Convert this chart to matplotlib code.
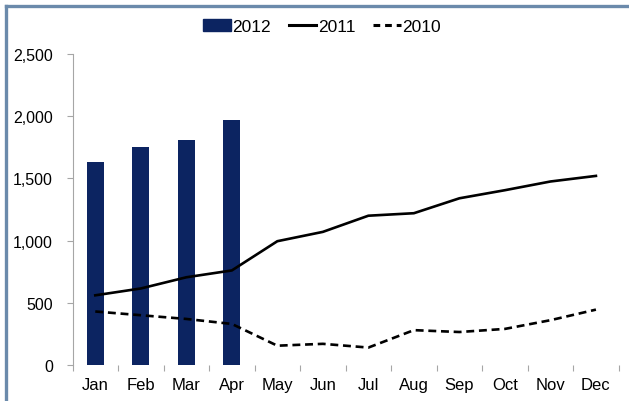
import numpy as np
import matplotlib
matplotlib.use("Agg")
from matplotlib import pyplot as plt
from matplotlib.lines import Line2D
from matplotlib.patches import Patch

plt.rcParams["font.family"] = ["Liberation Sans", "DejaVu Sans"]

months = ["Jan", "Feb", "Mar", "Apr", "May", "Jun",
          "Jul", "Aug", "Sep", "Oct", "Nov", "Dec"]
sales_2012 = [1630, 1750, 1810, 1970]
sales_2011 = [560, 615, 705, 760, 995, 1070, 1200, 1220, 1340, 1405, 1475, 1520]
sales_2010 = [430, 400, 370, 330, 155, 170, 140, 280, 265, 290, 360, 445]

bar_color = "#0c2461"
axis_gray = "#a6a6a6"
frame_blue = "#6b8aab"

fig = plt.figure(figsize=(6.29, 4.02), dpi=100)
ax = fig.add_axes([0.1153, 0.0896, 0.9836 - 0.1153, 0.8632 - 0.0896])

x = np.arange(len(months))
ax.bar(x[:len(sales_2012)], sales_2012, width=0.38, color=bar_color, zorder=2)
ax.plot(x, sales_2011, color="black", lw=1.9, zorder=3, solid_joinstyle="round")
ax.plot(x, sales_2010, color="black", lw=1.9, zorder=3, dashes=(3.0, 1.8))

ax.set_xlim(-0.5, len(months) - 0.5)
ax.set_ylim(0, 2500)
ax.set_yticks(range(0, 2501, 500))
ax.set_yticklabels([f"{v:,}" for v in range(0, 2501, 500)])

# boundaries carry the tick marks, centres carry the month names
ax.set_xticks(np.arange(-0.5, len(months)), labels=[""] * (len(months) + 1))
ax.set_xticks(x, labels=months, minor=True)
ax.tick_params(axis="x", which="major", length=4, width=0.8, color=axis_gray)
ax.tick_params(axis="x", which="minor", length=0, pad=9, labelsize=12)
ax.tick_params(axis="y", length=4, width=0.8, color=axis_gray, pad=10, labelsize=11.5)

for side in ["top", "right", "bottom"]:
    ax.spines[side].set_visible(False)
ax.spines["left"].set_color(axis_gray)
ax.spines["left"].set_linewidth(0.8)

handles = [
    Patch(color=bar_color),
    Line2D([], [], color="black", lw=2.2),
    Line2D([], [], color="black", lw=2.2, dashes=(2.2, 1.6)),
]
fig.legend(handles, ["2012", "2011", "2010"], loc="center",
           bbox_to_anchor=(0.512, 0.931), ncol=3, frameon=False,
           fontsize=12.5, handlelength=1.6, handletextpad=0.1,
           columnspacing=1.0)

# frame along the top and left edges
fig.add_artist(Line2D([0.0095, 1.0], [0.9838, 0.9838], color=frame_blue,
                      lw=2.4, transform=fig.transFigure))
fig.add_artist(Line2D([0.0095, 0.0095], [0.0, 0.9838], color=frame_blue,
                      lw=2.4, transform=fig.transFigure))

fig.savefig("out.png", dpi=100)
